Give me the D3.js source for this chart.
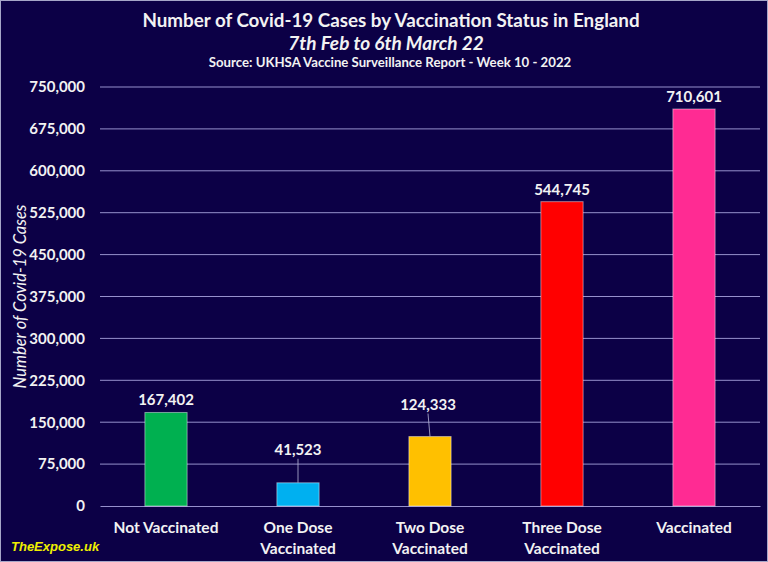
<!DOCTYPE html>
<html>
<head>
<meta charset="utf-8">
<script src="https://cdn.jsdelivr.net/npm/d3@7"></script>
<style>
  body { margin: 0; background: #0c0046; }
  svg { display: block; }
</style>
</head>
<body>
<div id="chart"></div>
<script>
var categories = ["Not Vaccinated", "One Dose Vaccinated", "Two Dose Vaccinated", "Three Dose Vaccinated", "Vaccinated"];
var cases = [167402, 41523, 124333, 544745, 710601];
var barColors = ["#00b050", "#00b0f0", "#ffc000", "#ff0000", "#ff2b93"];
var yTicks = [0, 75000, 150000, 225000, 300000, 375000, 450000, 525000, 600000, 675000, 750000];

var svgWidth = 768;
var svgHeight = 562;
var margin = { top: 87, right: 8, bottom: 56, left: 100 };
var width = svgWidth - margin.left - margin.right;
var height = svgHeight - margin.top - margin.bottom;

var font = "Lato, 'Open Sans', sans-serif";
var textColor = "#f2f2f2";
var gridColor = "#9690cc";

var svg = d3.select("#chart").append("svg")
  .attr("width", svgWidth)
  .attr("height", svgHeight);

svg.append("rect")
  .attr("x", 0.5).attr("y", 0.5)
  .attr("width", svgWidth - 1).attr("height", svgHeight - 1)
  .attr("fill", "#0c0046")
  .attr("stroke", "#a6a6c8");

// titles
svg.append("text")
  .text("Number of Covid-19 Cases by Vaccination Status in England")
  .attr("x", 391).attr("y", 27)
  .attr("text-anchor", "middle")
  .style("font-family", font).style("font-weight", "bold").style("font-size", "18.8px")
  .attr("fill", textColor);
svg.append("text")
  .text("7th Feb to 6th March 22")
  .attr("x", 386).attr("y", 50)
  .attr("text-anchor", "middle")
  .style("font-family", font).style("font-weight", "bold").style("font-style", "italic").style("font-size", "19px")
  .attr("fill", textColor);
svg.append("text")
  .text("Source: UKHSA Vaccine Surveillance Report - Week 10 - 2022")
  .attr("x", 390).attr("y", 67)
  .attr("text-anchor", "middle")
  .style("font-family", font).style("font-weight", "bold").style("font-size", "13.2px")
  .attr("fill", textColor);

var chartGroup = svg.append("g")
  .attr("transform", `translate(${margin.left}, ${margin.top})`);

var xScale = d3.scaleBand()
  .domain(categories)
  .range([0, width])
  .paddingInner(0.68)
  .paddingOuter(0.34);

var yScale = d3.scaleLinear()
  .domain([0, 750000])
  .range([height, 0]);

// gridlines
chartGroup.append("g")
  .selectAll("line")
  .data(yTicks.slice(1))
  .enter()
  .append("line")
  .attr("x1", 0).attr("x2", width)
  .attr("y1", (d) => yScale(d)).attr("y2", (d) => yScale(d))
  .attr("stroke", gridColor)
  .attr("stroke-width", 1);

// y axis
var leftAxis = d3.axisLeft(yScale)
  .tickValues(yTicks)
  .tickSize(0)
  .tickPadding(15)
  .tickFormat(d3.format(","));
var yAxisG = chartGroup.append("g").call(leftAxis);
yAxisG.select(".domain").remove();
yAxisG.selectAll("text")
  .style("font-family", font).style("font-weight", "bold").style("font-size", "15px")
  .attr("fill", textColor);

// x axis
var bottomAxis = d3.axisBottom(xScale).tickSize(0).tickPadding(16);
var xAxisG = chartGroup.append("g")
  .attr("transform", "translate(0, " + height + ")")
  .call(bottomAxis);
xAxisG.select(".domain").attr("stroke", gridColor);
xAxisG.selectAll(".tick text")
  .style("font-family", font).style("font-weight", "bold").style("font-size", "15.5px")
  .attr("fill", textColor)
  .each(function (d) {
    var t = d3.select(this);
    var words = d.split(" ");
    if (words.length > 2) {
      t.text(null);
      t.append("tspan").attr("x", 0).attr("dy", "0.71em").text(words.slice(0, 2).join(" "));
      t.append("tspan").attr("x", 0).attr("dy", "1.38em").text(words.slice(2).join(" "));
      t.attr("dy", null);
    }
  });

// y axis title
chartGroup.append("text")
  .text("Number of Covid-19 Cases")
  .attr("transform", `translate(-74,${height / 2}) rotate(-90)`)
  .attr("text-anchor", "middle")
  .style("font-family", font).style("font-style", "italic").style("font-size", "16.5px")
  .attr("fill", textColor);

var rows = categories.map((c, i) => ({ cat: c, value: cases[i], color: barColors[i] }));

// bars
chartGroup.append("g")
  .selectAll("rect")
  .data(rows)
  .enter()
  .append("rect")
  .attr("x", (d) => xScale(d.cat))
  .attr("y", (d) => yScale(d.value))
  .attr("width", xScale.bandwidth())
  .attr("height", (d) => height - yScale(d.value))
  .attr("fill", (d) => d.color)
  .attr("stroke", "rgba(255,255,255,0.45)")
  .attr("stroke-width", 1);

// data labels, two of them lifted with leader lines
var lift = [0, 21, 20, 0, 0];
var labels = chartGroup.append("g");
rows.forEach(function (d, i) {
  var cx = xScale(d.cat) + xScale.bandwidth() / 2;
  var top = yScale(d.value);
  var base = top - 7 - lift[i];
  if (lift[i] > 0) {
    labels.append("line")
      .attr("x1", cx - (i === 2 ? 2 : 0)).attr("y1", base + 4)
      .attr("x2", cx).attr("y2", top)
      .attr("stroke", "#b8b8d8").attr("stroke-width", 0.8);
  }
  labels.append("text")
    .text(d3.format(",")(d.value))
    .attr("x", cx - (i === 2 ? 2 : 0)).attr("y", base)
    .attr("text-anchor", "middle")
    .style("font-family", font).style("font-weight", "bold").style("font-size", "15px")
    .attr("fill", textColor);
});

// watermark
svg.append("text")
  .text("TheExpose.uk")
  .attr("x", 11).attr("y", 551)
  .style("font-family", "'Liberation Sans', Arial, sans-serif")
  .style("font-weight", "bold").style("font-style", "italic").style("font-size", "13px")
  .attr("fill", "#f0f000");
</script>
</body>
</html>
